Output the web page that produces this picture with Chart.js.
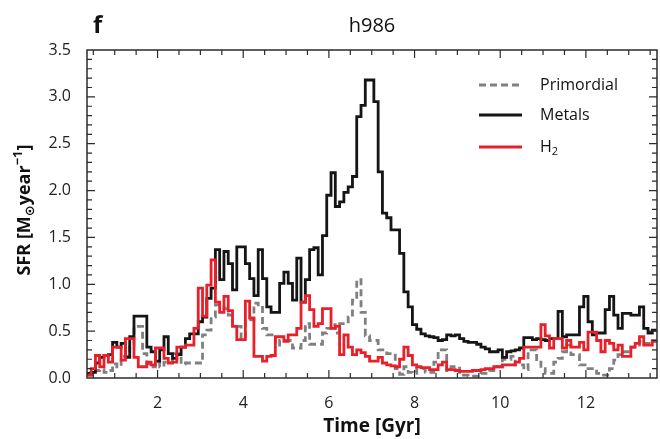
<!DOCTYPE html>
<html>
<head>
<meta charset="utf-8">
<script src="https://cdn.jsdelivr.net/npm/chart.js@4.4.0/dist/chart.umd.min.js"></script>
<style>
  html, body { margin: 0; padding: 0; background: #fff; }
  #wrap { width: 660px; height: 439px; }
</style>
</head>
<body>
<div id="wrap"><canvas id="sfrChart" width="660" height="439"></canvas></div>
<script>
// histogram bins start at 0.35 Gyr, each 0.1 Gyr wide
const BIN_START = 0.35;
const BIN_WIDTH = 0.1;

// SFR per bin [Msun/yr]
const primordial = [
    0.03, 0.03, 0.08, 0.09, 0.06, 0.08, 0.15, 0.12, 0.23, 0.23,
    0.35, 0.55, 0.55, 0.26, 0.15, 0.12, 0.17, 0.12, 0.17, 0.17,
    0.26, 0.26, 0.15, 0.16, 0.16, 0.16, 0.16, 0.46, 0.51, 0.65,
    0.78, 0.78, 0.74, 0.67, 0.55, 0.55, 0.42, 0.62, 0.62, 0.80,
    0.78, 0.53, 0.46, 0.46, 0.35, 0.40, 0.40, 0.40, 0.32, 0.32,
    0.40, 0.58, 0.36, 0.36, 0.36, 0.48, 0.53, 0.57, 0.48, 0.58,
    0.58, 0.65, 0.83, 1.05, 0.70, 0.45, 0.40, 0.40, 0.30, 0.30,
    0.26, 0.26, 0.10, 0.04, 0.12, 0.06, 0.05, 0.10, 0.10, 0.06,
    0.06, 0.17, 0.30, 0.30, 0.08, 0.12, 0.12, 0.03, 0.03, 0.02,
    0.02, 0.02, 0.05, 0.05, 0.08, 0.12, 0.12, 0.20, 0.20, 0.23,
    0.14, 0.14, 0.09, 0.30, 0.30, 0.17, 0.10, 0.05, 0.05, 0.17,
    0.21, 0.28, 0.35, 0.25, 0.25, 0.14, 0.14, 0.10, 0.10, 0.05,
    0.03, 0.03, 0.10, 0.19, 0.25, 0.28, 0.28, 0.33, 0.33, 0.39,
    0.37, 0.37, 0.40
];

const metals = [
    0.05, 0.06, 0.16, 0.22, 0.24, 0.25, 0.38, 0.33, 0.37, 0.22,
    0.44, 0.66, 0.66, 0.66, 0.33, 0.28, 0.18, 0.30, 0.44, 0.26,
    0.21, 0.25, 0.33, 0.42, 0.47, 0.47, 0.60, 0.65, 0.85, 0.96,
    1.37, 1.05, 1.35, 1.22, 0.94, 1.40, 1.40, 1.22, 1.06, 0.88,
    1.37, 1.06, 0.76, 0.70, 0.70, 1.01, 1.13, 1.01, 0.83, 1.28,
    0.81, 1.05, 1.37, 1.39, 1.10, 1.52, 1.95, 2.19, 1.83, 1.88,
    1.98, 2.04, 2.15, 2.79, 2.91, 3.18, 3.18, 2.95, 2.20, 1.76,
    1.71, 1.58, 1.58, 1.33, 0.92, 0.76, 0.57, 0.52, 0.47, 0.45,
    0.44, 0.43, 0.40, 0.41, 0.46, 0.45, 0.46, 0.42, 0.39, 0.38,
    0.38, 0.36, 0.33, 0.31, 0.28, 0.28, 0.30, 0.22, 0.28, 0.29,
    0.30, 0.32, 0.43, 0.43, 0.41, 0.42, 0.41, 0.40, 0.42, 0.42,
    0.71, 0.44, 0.46, 0.46, 0.46, 0.76, 0.87, 0.60, 0.46, 0.48,
    0.48, 0.73, 0.87, 0.67, 0.53, 0.69, 0.69, 0.67, 0.67, 0.76,
    0.53, 0.48, 0.51
];

const h2 = [
    0.03, 0.10, 0.24, 0.12, 0.24, 0.17, 0.33, 0.33, 0.19, 0.42,
    0.42, 0.22, 0.12, 0.12, 0.17, 0.14, 0.32, 0.32, 0.21, 0.16,
    0.17, 0.33, 0.33, 0.35, 0.35, 0.53, 0.96, 0.66, 0.99, 1.26,
    0.81, 0.70, 0.87, 0.72, 0.55, 0.41, 0.41, 0.82, 0.64, 0.23,
    0.23, 0.18, 0.23, 0.24, 0.44, 0.44, 0.39, 0.46, 0.46, 0.53,
    0.81, 0.88, 0.73, 0.55, 0.58, 0.74, 0.74, 0.53, 0.55, 0.25,
    0.46, 0.33, 0.25, 0.30, 0.27, 0.23, 0.18, 0.18, 0.22, 0.16,
    0.14, 0.13, 0.12, 0.20, 0.33, 0.24, 0.14, 0.12, 0.11, 0.11,
    0.09, 0.09, 0.14, 0.17, 0.09, 0.09, 0.08, 0.07, 0.07, 0.07,
    0.08, 0.08, 0.09, 0.10, 0.10, 0.12, 0.12, 0.14, 0.14, 0.14,
    0.17, 0.21, 0.33, 0.33, 0.33, 0.33, 0.57, 0.45, 0.32, 0.42,
    0.42, 0.32, 0.40, 0.33, 0.33, 0.38, 0.30, 0.49, 0.49, 0.40,
    0.28, 0.40, 0.37, 0.30, 0.35, 0.23, 0.23, 0.33, 0.37, 0.44,
    0.35, 0.35, 0.39
];

const xTicks = [2, 4, 6, 8, 10, 12];
const yTicks = [0, 0.5, 1.0, 1.5, 2.0, 2.5, 3.0, 3.5];
const X_MIN = 0.353, X_MAX = 13.66;

const FONT = "'Open Sans', 'DejaVu Sans', sans-serif";

// turn bin values into points for a stepped line (extra point closes the last bin)
function toSteps(values) {
    const pts = values.map((v, i) => ({ x: +(BIN_START + i * BIN_WIDTH).toFixed(2), y: v }));
    pts.push({ x: +(BIN_START + values.length * BIN_WIDTH).toFixed(2), y: values[values.length - 1] });
    return pts;
}

// frame, inward ticks, titles and legend
const decorations = {
    id: 'decorations',
    afterDatasetsDraw(chart) {
        const ctx = chart.ctx;
        const a = chart.chartArea;
        const xs = chart.scales.x, ys = chart.scales.y;
        ctx.save();
        ctx.strokeStyle = '#2b2b2b';
        ctx.lineWidth = 1.5;
        ctx.strokeRect(a.left, a.top, a.right - a.left, a.bottom - a.top);

        ctx.lineWidth = 1.2;
        ctx.beginPath();
        for (let k = 1; k <= 27; k++) {
            const v = k * 0.5;
            if (v < X_MIN || v > X_MAX) continue;
            const len = (v % 2 === 0) ? 8 : 5;
            const px = xs.getPixelForValue(v);
            ctx.moveTo(px, a.bottom); ctx.lineTo(px, a.bottom - len);
            ctx.moveTo(px, a.top); ctx.lineTo(px, a.top + len);
        }
        for (let k = 1; k < 35; k++) {
            const v = k / 10;
            const len = (k % 5 === 0) ? 8 : 5;
            const py = ys.getPixelForValue(v);
            ctx.moveTo(a.left, py); ctx.lineTo(a.left + len, py);
            ctx.moveTo(a.right, py); ctx.lineTo(a.right - len, py);
        }
        ctx.stroke();

        // panel letter and title
        ctx.fillStyle = '#111';
        ctx.textBaseline = 'alphabetic';
        ctx.font = "bold 24px " + FONT;
        ctx.textAlign = 'left';
        ctx.fillText('f', 93, 33);
        ctx.font = "20px " + FONT;
        ctx.textAlign = 'center';
        ctx.fillText('h986', (a.left + a.right) / 2, 32);

        // x title
        ctx.font = "bold 19px " + FONT;
        ctx.fillText('Time [Gyr]', (a.left + a.right) / 2, 432);

        // y title with sun subscript and -1 superscript
        ctx.save();
        ctx.translate(30, 210);
        ctx.rotate(-Math.PI / 2);
        const big = "bold 18px " + FONT, small = "bold 13px " + FONT;
        const parts = [
            { t: 'SFR [M', f: big, dy: 0 },
            { t: '\u2299', f: small, dy: 4 },
            { t: 'year', f: big, dy: 0 },
            { t: '\u22121', f: small, dy: -8 },
            { t: ']', f: big, dy: 0 }
        ];
        let total = 0;
        parts.forEach(p => { ctx.font = p.f; p.w = ctx.measureText(p.t).width; total += p.w; });
        let cx = -total / 2;
        ctx.textAlign = 'left';
        parts.forEach(p => { ctx.font = p.f; ctx.fillText(p.t, cx, p.dy); cx += p.w; });
        ctx.restore();

        // legend
        const items = [
            { label: 'Primordial', color: '#808080', dash: [7, 4], y: 85 },
            { label: 'Metals', color: '#151515', dash: [], y: 115 },
            { label: 'H', sub: '2', color: '#e8202a', dash: [], y: 147 }
        ];
        ctx.lineWidth = 2.8;
        items.forEach(it => {
            ctx.strokeStyle = it.color;
            ctx.setLineDash(it.dash);
            ctx.beginPath();
            ctx.moveTo(479, it.y); ctx.lineTo(522, it.y);
            ctx.stroke();
            ctx.setLineDash([]);
            ctx.font = "16px " + FONT;
            ctx.textAlign = 'left';
            ctx.textBaseline = 'middle';
            ctx.fillStyle = '#111';
            ctx.fillText(it.label, 540, it.y);
            if (it.sub) {
                const w = ctx.measureText(it.label).width;
                ctx.font = "11px " + FONT;
                ctx.fillText(it.sub, 540 + w, it.y + 5);
            }
        });
        ctx.restore();
    }
};

const ctx = document.getElementById('sfrChart').getContext('2d');
new Chart(ctx, {
    type: 'line',
    data: {
        datasets: [
            {
                label: 'Primordial',
                data: toSteps(primordial),
                borderColor: '#808080',
                borderDash: [7, 4],
                order: 3
            },
            {
                label: 'Metals',
                data: toSteps(metals),
                borderColor: '#151515',
                order: 2
            },
            {
                label: 'H2',
                data: toSteps(h2),
                borderColor: '#e8202a',
                order: 1
            }
        ]
    },
    options: {
        responsive: false,
        animation: false,
        devicePixelRatio: 1,
        layout: { padding: { top: 50, right: 3, left: 0, bottom: 0 } },
        elements: {
            line: { stepped: true, borderWidth: 2.8, fill: false, tension: 0, borderJoinStyle: 'miter', borderCapStyle: 'butt' },
            point: { radius: 0 }
        },
        plugins: {
            legend: { display: false },
            tooltip: { enabled: false },
            title: { display: false }
        },
        scales: {
            x: {
                type: 'linear',
                min: X_MIN,
                max: X_MAX,
                grid: { display: false },
                border: { display: false },
                ticks: { font: { family: FONT, size: 16 }, color: '#222', padding: 8, maxRotation: 0, autoSkip: false },
                afterBuildTicks: s => { s.ticks = xTicks.map(v => ({ value: v })); },
                afterFit: s => { s.height = 61; }
            },
            y: {
                type: 'linear',
                min: 0,
                max: 3.5,
                grid: { display: false },
                border: { display: false },
                ticks: { font: { family: FONT, size: 16 }, color: '#222', padding: 8, callback: v => v.toFixed(1) },
                afterBuildTicks: s => { s.ticks = yTicks.map(v => ({ value: v })); },
                afterFit: s => { s.width = 87; }
            }
        }
    },
    plugins: [decorations]
});
</script>
</body>
</html>
